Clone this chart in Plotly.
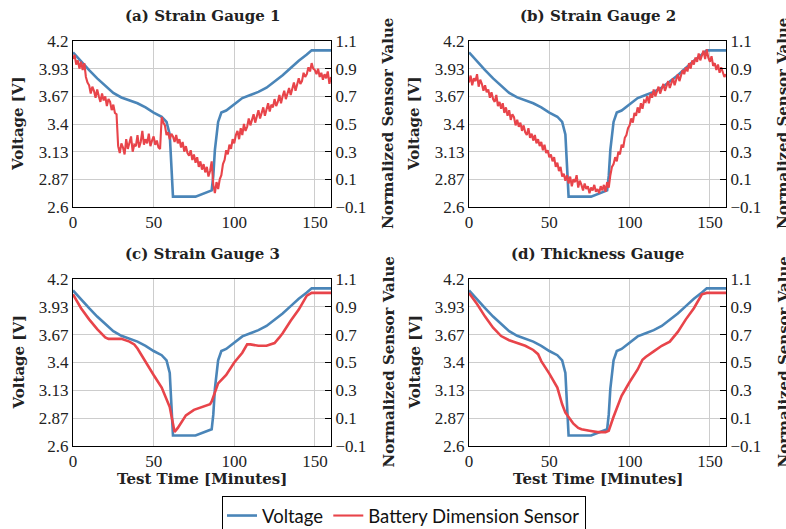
import plotly.graph_objects as go

# ---------------- data ----------------
volt_t = [0, 5, 10, 15, 20, 25, 30, 35, 40, 45, 50, 55, 58, 60, 61, 62, 76, 86, 87, 88, 90, 92, 95,
          100, 105, 110, 115, 120, 125, 130, 135, 140, 145, 148, 160]
volt_v = [4.09, 4.00, 3.92, 3.84, 3.765, 3.70, 3.656, 3.625, 3.60, 3.56, 3.51, 3.47, 3.42, 3.30, 3.00, 2.70,
          2.70, 2.76, 2.90, 3.15, 3.42, 3.51, 3.53, 3.59, 3.65, 3.68, 3.71, 3.75, 3.81, 3.87, 3.94, 4.01,
          4.07, 4.11, 4.11]

minutes = list(range(0, 161))

sg1 = [0.97, 1.00, 0.93, 0.96, 0.90, 0.95, 0.89, 0.94, 0.84, 0.80,
       0.78, 0.72, 0.77, 0.74, 0.69, 0.75, 0.70, 0.66, 0.72, 0.67,
       0.70, 0.63, 0.68, 0.66, 0.60, 0.64, 0.58, 0.57, 0.34, 0.29,
       0.36, 0.33, 0.28, 0.39, 0.32, 0.36, 0.41, 0.30, 0.35, 0.34,
       0.42, 0.33, 0.37, 0.45, 0.35, 0.39, 0.36, 0.43, 0.34, 0.38,
       0.41, 0.35, 0.38, 0.33, 0.32, 0.55, 0.51, 0.49, 0.42, 0.44,
       0.39, 0.43, 0.41, 0.37, 0.42, 0.36, 0.39, 0.33, 0.37, 0.30,
       0.34, 0.29, 0.27, 0.31, 0.24, 0.28, 0.22, 0.26, 0.19, 0.23,
       0.17, 0.21, 0.15, 0.19, 0.12, 0.16, 0.23, 0.06, 0.00, 0.08,
       0.03, 0.10, 0.13, 0.21, 0.24, 0.31, 0.28, 0.35, 0.32, 0.39,
       0.36, 0.42, 0.45, 0.39, 0.47, 0.42, 0.50, 0.45, 0.48, 0.54,
       0.49, 0.53, 0.57, 0.51, 0.55, 0.60, 0.54, 0.58, 0.62, 0.56,
       0.61, 0.65, 0.59, 0.64, 0.62, 0.68, 0.63, 0.66, 0.71, 0.65,
       0.70, 0.74, 0.68, 0.73, 0.76, 0.71, 0.75, 0.80, 0.74, 0.78,
       0.83, 0.79, 0.81, 0.87, 0.84, 0.86, 0.91, 0.88, 0.94, 0.90,
       0.89, 0.86, 0.90, 0.84, 0.87, 0.82, 0.86, 0.83, 0.88, 0.79, 0.84]

sg2 = [0.80, 0.85, 0.78, 0.83, 0.81, 0.86, 0.77, 0.82, 0.79, 0.74,
       0.78, 0.73, 0.75, 0.69, 0.73, 0.68, 0.66, 0.71, 0.63, 0.66,
       0.61, 0.65, 0.58, 0.62, 0.56, 0.60, 0.53, 0.57, 0.55, 0.49,
       0.53, 0.48, 0.51, 0.45, 0.49, 0.44, 0.42, 0.47, 0.40, 0.43,
       0.38, 0.42, 0.36, 0.39, 0.34, 0.37, 0.31, 0.35, 0.29, 0.31,
       0.26, 0.28, 0.23, 0.26, 0.19, 0.22, 0.16, 0.19, 0.12, 0.14,
       0.09, 0.13, 0.07, 0.12, 0.05, 0.10, 0.08, 0.13, 0.04, 0.09,
       0.06, 0.02, 0.07, 0.03, 0.05, 0.00, 0.04, 0.02, 0.06, 0.01,
       0.03, 0.00, 0.05, 0.02, 0.06, 0.01, 0.08, 0.04, 0.13, 0.19,
       0.21, 0.26, 0.23, 0.30, 0.28, 0.35, 0.33, 0.40, 0.42, 0.47,
       0.49, 0.54, 0.51, 0.58, 0.56, 0.62, 0.58, 0.65, 0.61, 0.67,
       0.66, 0.70, 0.65, 0.72, 0.69, 0.75, 0.70, 0.73, 0.77, 0.72,
       0.76, 0.79, 0.74, 0.78, 0.81, 0.76, 0.80, 0.83, 0.78, 0.82,
       0.86, 0.81, 0.85, 0.89, 0.86, 0.91, 0.88, 0.94, 0.90, 0.96,
       0.93, 0.98, 0.95, 1.01, 0.96, 0.99, 1.03, 0.97, 1.04, 0.98,
       0.95, 0.99, 0.92, 0.94, 0.89, 0.93, 0.87, 0.91, 0.88, 0.84, 0.86]

sg3_t = [0, 5, 10, 15, 20, 22, 25, 30, 35, 38, 40, 45, 50, 55, 58, 60, 62, 63, 65, 68, 70, 75, 80, 85,
         86, 88, 90, 95, 100, 105, 108, 110, 115, 120, 125, 128, 130, 135, 140, 145, 148, 150, 160]
sg3_v = [0.99, 0.89, 0.81, 0.74, 0.68, 0.67, 0.67, 0.67, 0.65, 0.63, 0.60, 0.50, 0.41, 0.32, 0.24, 0.18,
         0.06, 0.00, 0.03, 0.09, 0.12, 0.16, 0.18, 0.20, 0.22, 0.28, 0.35, 0.41, 0.50, 0.57, 0.63, 0.63,
         0.62, 0.62, 0.64, 0.68, 0.71, 0.80, 0.88, 0.98, 1.00, 1.00, 1.00]

tg_t = [0, 5, 10, 15, 20, 25, 30, 35, 40, 43, 45, 50, 55, 58, 60, 65, 68, 70, 75, 80, 85, 87, 90, 95,
        100, 105, 108, 110, 115, 120, 125, 128, 130, 135, 140, 145, 148, 160]
tg_v = [1.00, 0.92, 0.83, 0.75, 0.69, 0.66, 0.64, 0.62, 0.59, 0.56, 0.51, 0.42, 0.32, 0.20, 0.14, 0.06,
        0.03, 0.02, 0.01, 0.00, 0.00, 0.01, 0.11, 0.26, 0.36, 0.45, 0.52, 0.54, 0.58, 0.62, 0.65, 0.69,
        0.72, 0.81, 0.89, 0.99, 1.00, 1.00]

titles = ["(a) Strain Gauge 1", "(b) Strain Gauge 2", "(c) Strain Gauge 3", "(d) Thickness Gauge"]
sensor_x = [minutes, minutes, sg3_t, tg_t]
sensor_y = [sg1, sg2, sg3_v, tg_v]

left_ticks = [2.6, 2.8667, 3.1333, 3.4, 3.6667, 3.9333, 4.2]
left_text = ["2.6", "2.87", "3.13", "3.4", "3.67", "3.93", "4.2"]
right_ticks = [-0.1, 0.1, 0.3, 0.5, 0.7, 0.9, 1.1]
right_text = ["\u22120.1", "0.1", "0.3", "0.5", "0.7", "0.9", "1.1"]
x_ticks = [0, 50, 100, 150]

# ---------------- layout geometry (pixels) ----------------
W, H = 786, 529
px_x = [(73, 331), (469, 726), (73, 331), (469, 726)]
px_y = [(41, 207), (41, 207), (279, 446), (279, 446)]

BLUE = "#4A85B8"
RED = "#E8444A"
SERIF = "Liberation Serif, DejaVu Serif, serif"
BSERIF = "DejaVu Serif, serif"
SANS = "Lato, DejaVu Sans, sans-serif"
TXT = "#222"

fig = go.Figure()
layout = dict(width=W, height=H, margin=dict(l=0, r=0, t=0, b=0, autoexpand=False),
              paper_bgcolor="white", plot_bgcolor="white", annotations=[],
              showlegend=True)

for i in range(4):
    n = i + 1
    xa = "x" if n == 1 else f"x{n}"
    yl = 2 * i + 1
    yr = 2 * i + 2
    yla = "y" if yl == 1 else f"y{yl}"
    yra = f"y{yr}"
    fig.add_trace(go.Scatter(x=volt_t, y=volt_v, xaxis=xa, yaxis=yla, mode="lines",
                             line=dict(color=BLUE, width=2.6), name="Voltage",
                             showlegend=(i == 0), legendgroup="v"))
    fig.add_trace(go.Scatter(x=sensor_x[i], y=sensor_y[i], xaxis=xa, yaxis=yra, mode="lines",
                             line=dict(color=RED, width=2.1 if i < 2 else 2.6),
                             name="Battery Dimension Sensor",
                             showlegend=(i == 0), legendgroup="s"))
    x0, x1 = px_x[i]
    ytop, ybot = px_y[i]
    xd = [x0 / W, x1 / W]
    yd = [1 - ybot / H, 1 - ytop / H]
    layout[f"xaxis{'' if n == 1 else n}"] = dict(
        domain=xd, anchor=yla, range=[0, 160], tickvals=x_ticks, automargin=False,
        showgrid=True, gridcolor="#CDCDCD", gridwidth=1,
        showline=True, linecolor="black", linewidth=1, mirror=True,
        ticks="", tickfont=dict(family=SERIF, size=17, color=TXT), zeroline=False)
    layout[f"yaxis{'' if yl == 1 else yl}"] = dict(
        domain=yd, anchor=xa, range=[2.6, 4.2], tickvals=left_ticks, ticktext=left_text,
        automargin=False, showgrid=True, gridcolor="#CDCDCD", gridwidth=1,
        showline=True, linecolor="black", linewidth=1, mirror=True,
        ticks="", tickfont=dict(family=SERIF, size=17, color=TXT), zeroline=False)
    layout[f"yaxis{yr}"] = dict(
        domain=yd, anchor=xa, overlaying=yla, side="right", range=[-0.1, 1.1],
        tickvals=right_ticks, ticktext=right_text, showgrid=False, automargin=False,
        showline=True, linecolor="black", linewidth=1,
        ticks="inside", ticklen=6, tickcolor="black", tickwidth=1,
        tickfont=dict(family=SERIF, size=17, color=TXT), zeroline=False)
    cx = (x0 + x1) / 2
    cy = (ytop + ybot) / 2
    layout["annotations"].append(dict(
        text=f"<b>{titles[i]}</b>", x=cx / W, y=1 - (ytop - 25) / H, xref="paper", yref="paper",
        xanchor="center", yanchor="middle", showarrow=False,
        font=dict(family=BSERIF, size=15, color=TXT)))
    layout["annotations"].append(dict(
        text="<b>Voltage [V]</b>", x=(x0 - 55) / W, y=1 - cy / H, xref="paper", yref="paper",
        xanchor="center", yanchor="middle", textangle=-90, showarrow=False,
        font=dict(family=BSERIF, size=15, color=TXT)))
    layout["annotations"].append(dict(
        text="<b>Normalized Sensor Value</b>", x=(x1 + 57) / W, y=1 - cy / H,
        xref="paper", yref="paper", xanchor="center", yanchor="middle", textangle=-90,
        showarrow=False, font=dict(family=BSERIF, size=15, color=TXT)))
    if i >= 2:
        layout["annotations"].append(dict(
            text="<b>Test Time [Minutes]</b>", x=cx / W, y=1 - (ybot + 33) / H,
            xref="paper", yref="paper", xanchor="center", yanchor="middle", showarrow=False,
            font=dict(family=BSERIF, size=15, color=TXT)))

layout["legend"] = dict(orientation="h", x=404 / W, y=1 - 496 / H, xanchor="center", yanchor="top",
                        bordercolor="black", borderwidth=1, bgcolor="white",
                        font=dict(family=SANS, size=18.5, color="#111"),
                        itemwidth=30, tracegroupgap=0)
fig.update_layout(**layout)
fig.write_html("out.html", config={"displayModeBar": False},
               post_script="document.body.style.margin='0';document.body.style.overflow='hidden';")
